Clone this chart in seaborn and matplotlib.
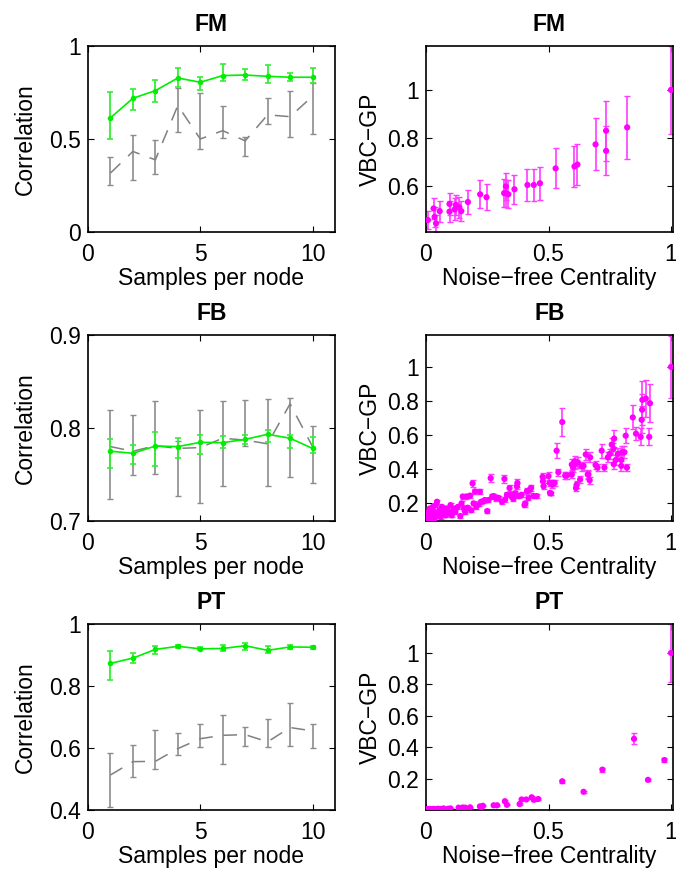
import matplotlib
matplotlib.use("Agg")
import matplotlib.pyplot as plt
import seaborn as sns
import numpy as np
from matplotlib.ticker import FuncFormatter

sns.set_theme(style="ticks")
plt.rcParams['font.family'] = ['Liberation Sans', 'DejaVu Sans']
FS = 16.5
plt.rcParams.update({
    'font.size': FS, 'axes.labelsize': FS, 'axes.titlesize': FS,
    'xtick.labelsize': FS, 'ytick.labelsize': FS,
    'axes.edgecolor': 'black', 'axes.linewidth': 1.2,
    'xtick.direction': 'in', 'ytick.direction': 'in',
    'xtick.top': True, 'ytick.right': True,
    'xtick.major.size': 4, 'ytick.major.size': 4,
    'xtick.major.width': 0.8, 'ytick.major.width': 0.8,
    'xtick.major.pad': 8.0, 'ytick.major.pad': 5,
    'xtick.color': 'black', 'ytick.color': 'black',
    'axes.labelcolor': 'black', 'text.color': 'black',
})

# ---------------- data ----------------
samples = [1, 2, 3, 4, 5, 6, 7, 8, 9, 10]

# FM (left)
fm_green = [0.614, 0.719, 0.760, 0.828, 0.805, 0.841, 0.844, 0.837, 0.832, 0.832]
fm_green_lo = [0.501, 0.655, 0.698, 0.782, 0.764, 0.814, 0.818, 0.803, 0.812, 0.800]
fm_green_hi = [0.755, 0.767, 0.816, 0.880, 0.834, 0.902, 0.877, 0.900, 0.853, 0.884]
fm_gray = [0.317, 0.433, 0.388, 0.680, 0.500, 0.545, 0.490, 0.630, 0.620, 0.730]
fm_gray_lo = [0.252, 0.281, 0.311, 0.540, 0.444, 0.504, 0.406, 0.583, 0.512, 0.526]
fm_gray_hi = [0.404, 0.521, 0.494, 0.776, 0.746, 0.676, 0.512, 0.719, 0.760, 0.800]

# FB (left)
fb_green = [0.775, 0.7728, 0.7806, 0.780, 0.7846, 0.7842, 0.7878, 0.7932, 0.789, 0.778]
fb_green_lo = [0.757, 0.7613, 0.7588, 0.768, 0.772, 0.779, 0.783, 0.7846, 0.7785, 0.7731]
fb_green_hi = [0.7885, 0.7814, 0.7953, 0.789, 0.792, 0.791, 0.7925, 0.798, 0.792, 0.7907]
fb_gray = [0.780, 0.775, 0.781, 0.778, 0.779, 0.789, 0.787, 0.783, 0.826, 0.780]
fb_gray_lo = [0.7233, 0.749, 0.751, 0.727, 0.719, 0.738, 0.781, 0.7376, 0.747, 0.741]
fb_gray_hi = [0.8197, 0.814, 0.829, 0.786, 0.819, 0.829, 0.830, 0.831, 0.832, 0.802]

# PT (left)
pt_green = [0.873, 0.890, 0.918, 0.928, 0.920, 0.921, 0.930, 0.915, 0.926, 0.925]
pt_green_lo = [0.818, 0.873, 0.904, 0.923, 0.915, 0.912, 0.917, 0.906, 0.919, 0.919]
pt_green_hi = [0.913, 0.906, 0.929, 0.933, 0.926, 0.933, 0.939, 0.929, 0.933, 0.929]
pt_gray = [0.513, 0.556, 0.557, 0.598, 0.630, 0.641, 0.643, 0.620, 0.666, 0.655]
pt_gray_lo = [0.411, 0.507, 0.533, 0.576, 0.603, 0.547, 0.605, 0.603, 0.605, 0.600]
pt_gray_hi = [0.583, 0.609, 0.657, 0.649, 0.678, 0.705, 0.669, 0.695, 0.744, 0.676]

# FM (right)
fmr_x = [0.008, 0.031, 0.035, 0.041, 0.056, 0.096, 0.096, 0.117, 0.122, 0.136,
         0.144, 0.171, 0.221, 0.247, 0.319, 0.326, 0.326, 0.336, 0.361, 0.414,
         0.440, 0.465, 0.529, 0.606, 0.618, 0.692, 0.735, 0.735, 0.821, 1.000]
fmr_y = [0.458, 0.506, 0.471, 0.444, 0.495, 0.525, 0.493, 0.502, 0.521, 0.511,
         0.495, 0.533, 0.565, 0.553, 0.570, 0.598, 0.570, 0.565, 0.586, 0.604,
         0.604, 0.611, 0.673, 0.681, 0.689, 0.773, 0.830, 0.746, 0.844, 1.000]
fmr_err = [0.038, 0.043, 0.042, 0.036, 0.044, 0.046, 0.044, 0.046, 0.042, 0.043,
           0.042, 0.051, 0.058, 0.054, 0.058, 0.056, 0.056, 0.058, 0.061, 0.066,
           0.067, 0.068, 0.083, 0.084, 0.085, 0.108, 0.125, 0.102, 0.130, 0.183]

# FB (right)
fbr_x = [0.000, 0.005, 0.008, 0.010, 0.012, 0.015, 0.018, 0.020, 0.022, 0.025,
         0.028, 0.030, 0.033, 0.035, 0.040, 0.042, 0.045, 0.050, 0.055, 0.060,
         0.065, 0.070, 0.075, 0.080, 0.085, 0.090, 0.095, 0.100, 0.105, 0.110,
         0.115, 0.120, 0.130, 0.140, 0.145, 0.150, 0.155, 0.160, 0.165, 0.170,
         0.180, 0.185, 0.190, 0.194, 0.200, 0.205, 0.215, 0.220, 0.225, 0.235,
         0.240, 0.250, 0.255, 0.264, 0.270, 0.276, 0.285, 0.296, 0.310, 0.320,
         0.323, 0.330, 0.341, 0.344, 0.350, 0.357, 0.365, 0.371, 0.373, 0.378,
         0.390, 0.402, 0.405, 0.412, 0.418, 0.425, 0.429, 0.440, 0.452, 0.476,
         0.477, 0.480, 0.500, 0.505, 0.506, 0.510, 0.515, 0.518, 0.525, 0.533,
         0.540, 0.556, 0.568, 0.575, 0.595, 0.595, 0.600, 0.607, 0.610, 0.612,
         0.615, 0.620, 0.629, 0.636, 0.643, 0.652, 0.660, 0.663, 0.668, 0.670,
         0.692, 0.700, 0.717, 0.728, 0.742, 0.750, 0.758, 0.765, 0.766, 0.768,
         0.775, 0.783, 0.797, 0.797, 0.800, 0.810, 0.815, 0.820, 0.844, 0.857,
         0.876, 0.880, 0.882, 0.883, 0.897, 0.911, 0.914, 1.000]
fbr_y = [0.100, 0.110, 0.130, 0.150, 0.120, 0.170, 0.100, 0.140, 0.160, 0.120,
         0.180, 0.130, 0.150, 0.110, 0.190, 0.140, 0.210, 0.130, 0.160, 0.120,
         0.180, 0.140, 0.150, 0.130, 0.170, 0.150, 0.140, 0.190, 0.130, 0.160,
         0.170, 0.150, 0.180, 0.126, 0.200, 0.240, 0.170, 0.150, 0.240, 0.175,
         0.245, 0.160, 0.317, 0.200, 0.270, 0.180, 0.194, 0.268, 0.210, 0.214,
         0.220, 0.155, 0.220, 0.348, 0.240, 0.243, 0.230, 0.233, 0.210, 0.344,
         0.223, 0.250, 0.290, 0.252, 0.240, 0.227, 0.260, 0.300, 0.320, 0.243,
         0.250, 0.190, 0.200, 0.272, 0.233, 0.280, 0.291, 0.243, 0.243, 0.356,
         0.330, 0.300, 0.360, 0.320, 0.262, 0.258, 0.310, 0.320, 0.320, 0.509,
         0.383, 0.677, 0.363, 0.364, 0.369, 0.428, 0.410, 0.447, 0.433, 0.290,
         0.310, 0.440, 0.340, 0.417, 0.420, 0.487, 0.370, 0.369, 0.336, 0.470,
         0.425, 0.410, 0.509, 0.410, 0.470, 0.490, 0.545, 0.520, 0.430, 0.580,
         0.455, 0.490, 0.455, 0.420, 0.500, 0.500, 0.597, 0.410, 0.704, 0.609,
         0.590, 0.690, 0.749, 0.807, 0.815, 0.590, 0.787, 1.000]
fbr_err = [0.010, 0.010, 0.010, 0.010, 0.010, 0.010, 0.010, 0.010, 0.010, 0.010,
           0.010, 0.010, 0.010, 0.010, 0.012, 0.010, 0.012, 0.010, 0.010, 0.010,
           0.012, 0.010, 0.010, 0.010, 0.012, 0.010, 0.010, 0.012, 0.010, 0.010,
           0.012, 0.010, 0.012, 0.010, 0.012, 0.014, 0.012, 0.010, 0.014, 0.012,
           0.014, 0.010, 0.020, 0.012, 0.015, 0.012, 0.012, 0.015, 0.012, 0.012,
           0.012, 0.010, 0.012, 0.022, 0.014, 0.014, 0.013, 0.013, 0.012, 0.022,
           0.013, 0.015, 0.018, 0.015, 0.014, 0.013, 0.015, 0.018, 0.025, 0.014,
           0.015, 0.012, 0.012, 0.016, 0.014, 0.016, 0.018, 0.014, 0.014, 0.025,
           0.020, 0.018, 0.025, 0.020, 0.010, 0.010, 0.018, 0.018, 0.018, 0.045,
           0.020, 0.083, 0.020, 0.020, 0.022, 0.030, 0.028, 0.030, 0.030, 0.020,
           0.020, 0.030, 0.022, 0.025, 0.025, 0.030, 0.025, 0.022, 0.020, 0.030,
           0.025, 0.022, 0.040, 0.022, 0.030, 0.030, 0.040, 0.035, 0.030, 0.050,
           0.030, 0.035, 0.030, 0.028, 0.035, 0.035, 0.045, 0.022, 0.070, 0.040,
           0.050, 0.080, 0.090, 0.110, 0.110, 0.050, 0.110, 0.183]

# PT (right)
ptr_x = [0.000, 0.005, 0.010, 0.015, 0.020, 0.030, 0.040, 0.050, 0.060, 0.072,
         0.090, 0.100, 0.133, 0.150, 0.160, 0.180, 0.220, 0.227, 0.232, 0.276,
         0.290, 0.322, 0.330, 0.382, 0.390, 0.409, 0.431, 0.440, 0.458, 0.556,
         0.643, 0.720, 0.849, 0.906, 0.973, 1.000]
ptr_y = [0.005, 0.006, 0.005, 0.007, 0.006, 0.007, 0.006, 0.008, 0.007, 0.010,
         0.008, 0.010, 0.015, 0.016, 0.015, 0.017, 0.023, 0.020, 0.027, 0.030,
         0.030, 0.056, 0.033, 0.038, 0.067, 0.067, 0.081, 0.065, 0.070, 0.183,
         0.116, 0.257, 0.453, 0.192, 0.318, 1.000]
ptr_err = [0.003, 0.003, 0.003, 0.003, 0.003, 0.003, 0.003, 0.003, 0.003, 0.003,
           0.003, 0.003, 0.003, 0.003, 0.003, 0.003, 0.004, 0.004, 0.004, 0.004,
           0.004, 0.006, 0.004, 0.005, 0.006, 0.006, 0.006, 0.006, 0.006, 0.008,
           0.006, 0.012, 0.036, 0.008, 0.015, 0.183]

titles = ["FM", "FB", "PT"]
left_ylims = [(0, 1), (0.7, 0.9), (0.4, 1)]
left_yticks = [[0, 0.5, 1], [0.7, 0.8, 0.9], [0.4, 0.6, 0.8, 1]]
right_ylims = [(0.408, 1.183), (0.097, 1.187), (0.0, 1.184)]
right_yticks = [[0.6, 0.8, 1], [0.2, 0.4, 0.6, 0.8, 1], [0.2, 0.4, 0.6, 0.8, 1]]

left_data = [
    (fm_green, fm_green_lo, fm_green_hi, fm_gray, fm_gray_lo, fm_gray_hi),
    (fb_green, fb_green_lo, fb_green_hi, fb_gray, fb_gray_lo, fb_gray_hi),
    (pt_green, pt_green_lo, pt_green_hi, pt_gray, pt_gray_lo, pt_gray_hi),
]
right_data = [(fmr_x, fmr_y, fmr_err), (fbr_x, fbr_y, fbr_err), (ptr_x, ptr_y, ptr_err)]

GREEN = '#00ee00'
GREEN_EB = '#33ee33'
GRAY_LINE = '#808080'
GRAY_EB = '#8c8c8c'
MAG = '#ff00ff'
MAG_EB = '#ff3cff'

fmt = FuncFormatter(lambda v, p: f"{v:g}")

W, H = 676, 871
fig = plt.figure(figsize=(W / 100, H / 100), dpi=100)
fig.patch.set_facecolor('white')

lefts = [88, 426]
tops = [46, 335, 624]
aw, ah = 247, 186

for r in range(3):
    # left panel
    axL = fig.add_axes([lefts[0] / W, 1 - (tops[r] + ah) / H, aw / W, ah / H])
    g, glo, ghi, gr, grlo, grhi = left_data[r]
    g = np.array(g); gr = np.array(gr)
    axL.errorbar(samples, gr, yerr=[gr - np.array(grlo), np.array(grhi) - gr],
                 fmt='none', ecolor=GRAY_EB, elinewidth=1.2, capsize=2.5,
                 capthick=1.0, zorder=2)
    sns.lineplot(x=samples, y=gr, ax=axL, color=GRAY_LINE, linewidth=1.1,
                 linestyle=(0, (9, 7)), errorbar=None, zorder=3)
    axL.errorbar(samples, g, yerr=[g - np.array(glo), np.array(ghi) - g],
                 fmt='none', ecolor=GREEN_EB, elinewidth=1.3, capsize=2.5,
                 capthick=1.2, zorder=4)
    sns.lineplot(x=samples, y=g, ax=axL, color=GREEN, linewidth=1.2,
                 marker='o', markersize=4, markeredgewidth=0, errorbar=None,
                 zorder=5)
    axL.set_xlim(0, 11)
    axL.set_ylim(*left_ylims[r])
    axL.set_xticks([0, 5, 10])
    axL.set_yticks(left_yticks[r])
    axL.xaxis.set_major_formatter(fmt)
    axL.yaxis.set_major_formatter(fmt)
    axL.set_xlabel("Samples per node", labelpad=0.5)
    axL.set_ylabel("Correlation", labelpad=9)
    axL.set_title(titles[r], fontweight='bold', pad=11)

    # right panel
    axR = fig.add_axes([lefts[1] / W, 1 - (tops[r] + ah) / H, aw / W, ah / H])
    x, y, e = right_data[r]
    axR.errorbar(x, y, yerr=e, fmt='none', ecolor=MAG_EB, elinewidth=1.2,
                 capsize=2.5, capthick=1.0, zorder=2, clip_on=True)
    sns.scatterplot(x=x, y=y, ax=axR, color=MAG, s=20, edgecolor='none',
                    linewidth=0, zorder=3)
    axR.set_xlim(0, 1.008)
    axR.set_ylim(*right_ylims[r])
    axR.set_xticks([0, 0.5, 1])
    axR.set_yticks(right_yticks[r])
    axR.xaxis.set_major_formatter(fmt)
    axR.yaxis.set_major_formatter(fmt)
    axR.set_xlabel("Noise\u2212free Centrality", labelpad=0.5)
    axR.set_ylabel("VBC\u2212GP", labelpad=4)
    axR.set_title(titles[r], fontweight='bold', pad=11)

    for ax in (axL, axR):
        for s in ax.spines.values():
            s.set_visible(True)
            s.set_color('black')
        ax.set_facecolor('white')

fig.savefig("out.png", dpi=100, facecolor='white')
